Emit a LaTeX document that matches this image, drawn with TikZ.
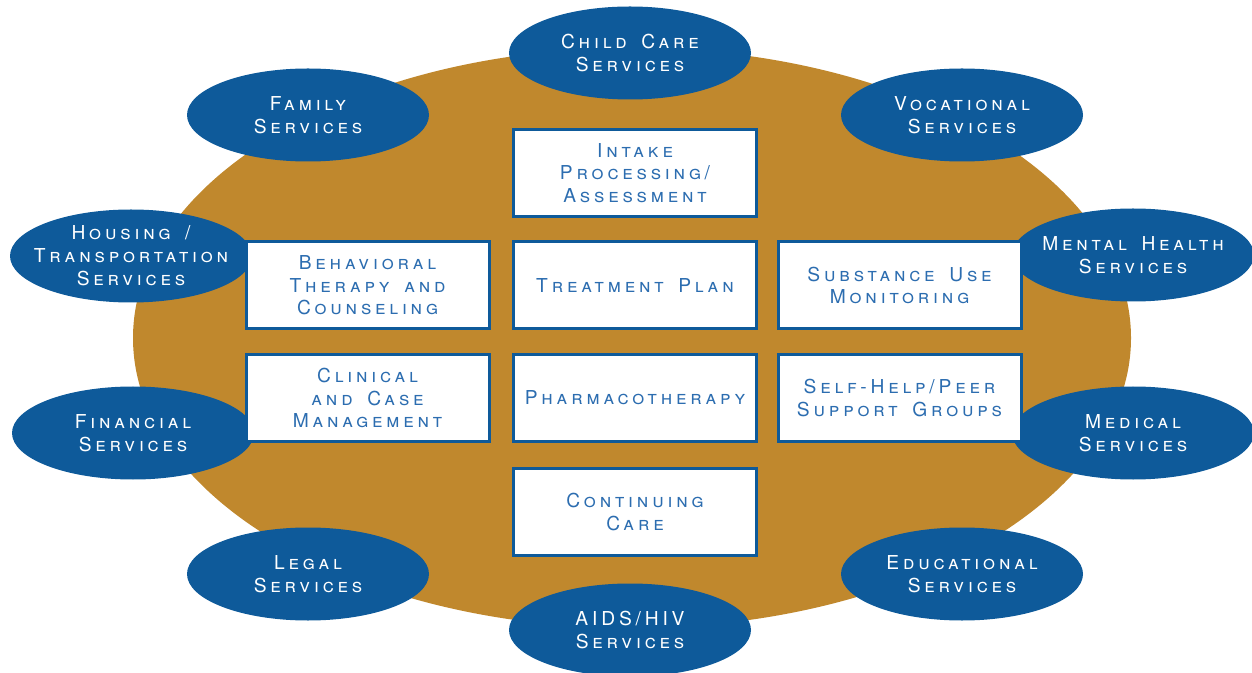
\documentclass[tikz,border=0pt]{standalone}
\usepackage{fontspec}
\setmainfont{TeX Gyre Heros}[Letters=SmallCaps,LetterSpace=20,WordSpace=1.6]
\usepackage{xcolor}
\usetikzlibrary{backgrounds}

\definecolor{gold}{HTML}{C0882D}
\definecolor{navy}{HTML}{0E5A9A}
\definecolor{boxblue}{HTML}{2C6DB0}

\tikzset{
servicetext/.style={text=white, align=center, inner sep=0pt,
  font=\fontsize{9.6}{11.5}\selectfont},
stagebox/.style={rectangle, draw=navy, line width=1.5pt, fill=white,
  text=boxblue, align=center, inner sep=0pt,
  minimum width=121.5pt, minimum height=43.5pt,
  font=\fontsize{9.6}{11.2}\selectfont}
}

\begin{document}
\begin{tikzpicture}[x=0.5pt,y=-0.5pt]
\def \RX {60.5pt};
\def \RY {23.25pt};

\useasboundingbox (0,0) rectangle (1252,673);

% draw background
\coordinate (centre) at (632,338);
\fill[gold] (centre) ellipse [x radius=249.5pt, y radius=145pt];

% draw services
\foreach \name/\x/\y/\txt in {
  child/630/53/{Child Care\\Services},
  family/308/115/{Family\\Services},
  vocational/962/115/{Vocational\\Services},
  housing/131/256/{Housing /\\Transportation\\Services},
  mental/1133/255/{Mental Health\\Services},
  financial/133/433/{Financial\\Services},
  medical/1133/433/{Medical\\Services},
  legal/308/574/{Legal\\Services},
  educational/962/574/{Educational\\Services},
  aids/630/630/{AIDS/HIV\\Services}}
{
\fill[navy] (\x,\y) ellipse [x radius=\RX, y radius=\RY];
\node[servicetext] (\name) at (\x,\y) {\txt};
}

% draw treatment stages
\foreach \name/\x/\y/\txt in {
  intake/635/173/{Intake\\Processing/\\Assessment},
  plan/635/285.5/{Treatment Plan},
  behavioral/367.5/285.5/{Behavioral\\Therapy and\\Counseling},
  monitoring/899.5/285.5/{Substance Use\\Monitoring},
  clinical/367.5/398/{Clinical\\and Case\\Management},
  pharma/635/398/{Pharmacotherapy},
  selfhelp/899.5/398/{Self-Help/Peer\\Support Groups},
  continuing/635/512/{Continuing\\Care}}
{
\node[stagebox] (\name) at (\x,\y) {\txt};
}

\end{tikzpicture}
\end{document}
